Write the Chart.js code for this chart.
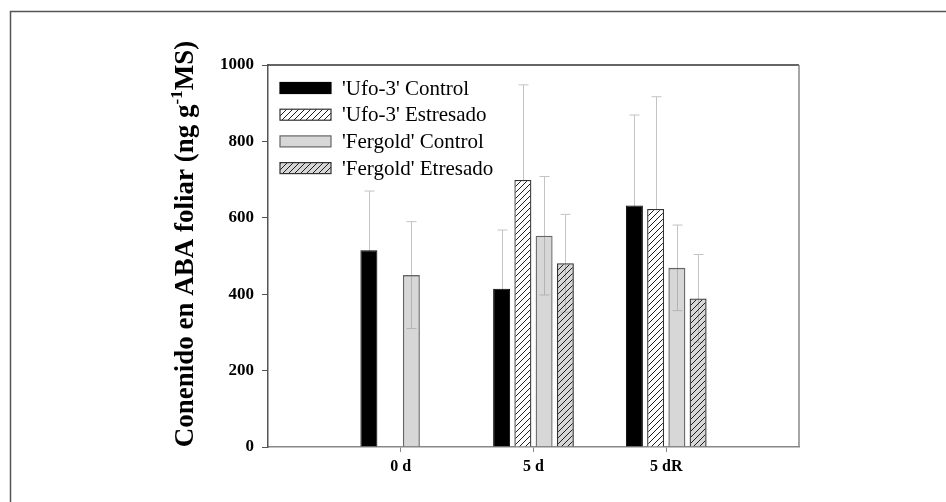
<!DOCTYPE html>
<html>
<head>
<meta charset="utf-8">
<script src="https://cdn.jsdelivr.net/npm/chart.js@4.4.1/dist/chart.umd.min.js"></script>
<style>
  html, body { margin: 0; padding: 0; background: #fff; }
  #wrap { width: 946px; height: 502px; }
</style>
</head>
<body>
<div id="wrap"><canvas id="abaChart" width="946" height="502"></canvas></div>
<script>
// categories (blank ends keep the axis running half a step past the groups)
const categories = ['', '0 d', '5 d', '5 dR', ''];

const ufoControl = [null, 515, 414, 632, null];
const ufoControlErr = [null, 155, 154, 237, null];
const ufoEstresado = [null, null, 699, 623, null];
const ufoEstresadoErr = [null, null, 249, 294, null];
const fergoldControl = [null, 450, 553, 469, null];
const fergoldControlErr = [null, 140, 155, 112, null];
const fergoldEstresado = [null, null, 481, 389, null];
const fergoldEstresadoErr = [null, null, 128, 115, null];

const yTicks = [0, 200, 400, 600, 800, 1000];

function makeHatch(bg) {
    const size = 6;
    const c = document.createElement('canvas');
    c.width = size;
    c.height = size;
    const g = c.getContext('2d');
    g.fillStyle = bg;
    g.fillRect(0, 0, size, size);
    g.strokeStyle = '#1e1e1e';
    g.lineWidth = 1;
    g.beginPath();
    g.moveTo(0, size);
    g.lineTo(size, 0);
    g.moveTo(-1, 1);
    g.lineTo(1, -1);
    g.moveTo(size - 1, size + 1);
    g.lineTo(size + 1, size - 1);
    g.stroke();
    return document.getElementById('abaChart').getContext('2d').createPattern(c, 'repeat');
}

const errors = [ufoControlErr, ufoEstresadoErr, fergoldControlErr, fergoldEstresadoErr];

const framePlugin = {
    id: 'frame',
    beforeDraw(chart) {
        const c = chart.ctx;
        c.save();
        c.fillStyle = '#fff';
        c.fillRect(0, 0, chart.width, chart.height);
        c.strokeStyle = '#555';
        c.lineWidth = 1.5;
        c.strokeRect(10.5, 11.5, 1000, 600);
        c.restore();
    },
    afterDraw(chart) {
        // top and right edges of the plot box
        const a = chart.chartArea;
        const c = chart.ctx;
        c.save();
        c.lineWidth = 1.5;
        c.strokeStyle = '#333';
        c.beginPath();
        c.moveTo(a.left, a.top);
        c.lineTo(a.right, a.top);
        c.stroke();
        c.strokeStyle = '#888';
        c.beginPath();
        c.moveTo(a.right, a.top);
        c.lineTo(a.right, a.bottom);
        c.stroke();
        c.restore();
    }
};

const errorBarPlugin = {
    id: 'errorBars',
    beforeDatasetsDraw(chart) {
        const c = chart.ctx;
        const yScale = chart.scales.y;
        c.save();
        c.strokeStyle = '#c4c4c4';
        c.lineWidth = 1;
        chart.data.datasets.forEach((ds, di) => {
            const meta = chart.getDatasetMeta(di);
            meta.data.forEach((bar, i) => {
                const v = ds.data[i];
                const e = errors[di][i];
                if (v == null || e == null) return;
                const x = Math.round(bar.x) + 0.5;
                const yTop = yScale.getPixelForValue(v + e);
                const yBot = yScale.getPixelForValue(v - e);
                c.beginPath();
                c.moveTo(x, yTop);
                c.lineTo(x, yBot);
                c.moveTo(x - 5, yTop);
                c.lineTo(x + 5, yTop);
                c.moveTo(x - 5, yBot);
                c.lineTo(x + 5, yBot);
                c.stroke();
            });
        });
        c.restore();
    }
};

const legendPlugin = {
    id: 'innerLegend',
    afterDraw(chart) {
        const c = chart.ctx;
        c.save();
        c.font = '21px "Liberation Serif"';
        c.textBaseline = 'middle';
        chart.data.datasets.forEach((ds, i) => {
            const yc = 88 + i * 26.7;
            c.fillStyle = '#fff';
            c.fillRect(280, yc - 5.5, 51, 11);
            c.fillStyle = ds.backgroundColor;
            c.fillRect(280, yc - 5.5, 51, 11);
            c.strokeStyle = ds.borderColor;
            c.lineWidth = 1.2;
            c.strokeRect(280, yc - 5.5, 51, 11);
            c.fillStyle = '#000';
            c.fillText(ds.label, 342, yc + 1);
        });
        c.restore();
    }
};

const yTitlePlugin = {
    id: 'yTitle',
    afterDraw(chart) {
        const c = chart.ctx;
        const part1 = 'Conenido en ABA foliar (ng g';
        const sup = '-1';
        const part2 = 'MS)';
        const big = 'bold 27px "Liberation Serif"';
        const small = 'bold 17px "Liberation Serif"';
        c.save();
        c.font = big;
        const w1 = c.measureText(part1).width;
        const w3 = c.measureText(part2).width;
        c.font = small;
        const w2 = c.measureText(sup).width;
        const total = w1 + w2 + w3;
        c.translate(193, 244);
        c.rotate(-Math.PI / 2);
        c.fillStyle = '#000';
        let x = -total / 2;
        c.font = big;
        c.fillText(part1, x, 0);
        x += w1;
        c.font = small;
        c.fillText(sup, x, -11);
        x += w2;
        c.font = big;
        c.fillText(part2, x, 0);
        c.restore();
    }
};

window.onload = () => {
    const grayFill = 'rgba(150, 150, 150, 0.38)';
    new Chart(document.getElementById('abaChart'), {
        type: 'bar',
        data: {
            labels: categories,
            datasets: [
                {
                    label: "'Ufo-3' Control",
                    data: ufoControl,
                    backgroundColor: '#000',
                    borderColor: '#000',
                    borderWidth: 1
                },
                {
                    label: "'Ufo-3' Estresado",
                    data: ufoEstresado,
                    backgroundColor: makeHatch('rgba(255, 255, 255, 0.82)'),
                    borderColor: '#333',
                    borderWidth: 1.3
                },
                {
                    label: "'Fergold' Control",
                    data: fergoldControl,
                    backgroundColor: grayFill,
                    borderColor: '#666',
                    borderWidth: 1.3
                },
                {
                    label: "'Fergold' Etresado",
                    data: fergoldEstresado,
                    backgroundColor: makeHatch(grayFill),
                    borderColor: '#333',
                    borderWidth: 1.3
                }
            ]
        },
        options: {
            responsive: false,
            animation: false,
            events: [],
            layout: { padding: { left: 0, right: 147, top: 65, bottom: 0 } },
            datasets: { bar: { categoryPercentage: 0.64, barPercentage: 0.8 } },
            plugins: {
                legend: { display: false },
                tooltip: { enabled: false }
            },
            scales: {
                x: {
                    type: 'category',
                    offset: false,
                    afterFit: (scale) => { scale.height = 55; },
                    grid: {
                        offset: false,
                        drawOnChartArea: false,
                        tickLength: 5,
                        tickColor: (ctx) => (categories[ctx.index] ? '#888' : 'rgba(0,0,0,0)')
                    },
                    border: { color: '#888', width: 1.5 },
                    ticks: {
                        autoSkip: false,
                        maxRotation: 0,
                        padding: 5,
                        color: '#000',
                        font: { family: 'Liberation Serif', weight: 'bold', size: 16 }
                    }
                },
                y: {
                    min: 0,
                    max: 1000,
                    afterFit: (scale) => { scale.width = 268; },
                    afterBuildTicks: (scale) => { scale.ticks = yTicks.map(v => ({ value: v })); },
                    grid: { drawOnChartArea: false, tickLength: 6, color: '#555' },
                    border: { color: '#555', width: 1.5 },
                    ticks: {
                        padding: 8,
                        color: '#000',
                        font: { family: 'Liberation Serif', weight: 'bold', size: 17 },
                        callback: (value) => String(value)
                    }
                }
            }
        },
        plugins: [framePlugin, errorBarPlugin, legendPlugin, yTitlePlugin]
    });
};
</script>
</body>
</html>
